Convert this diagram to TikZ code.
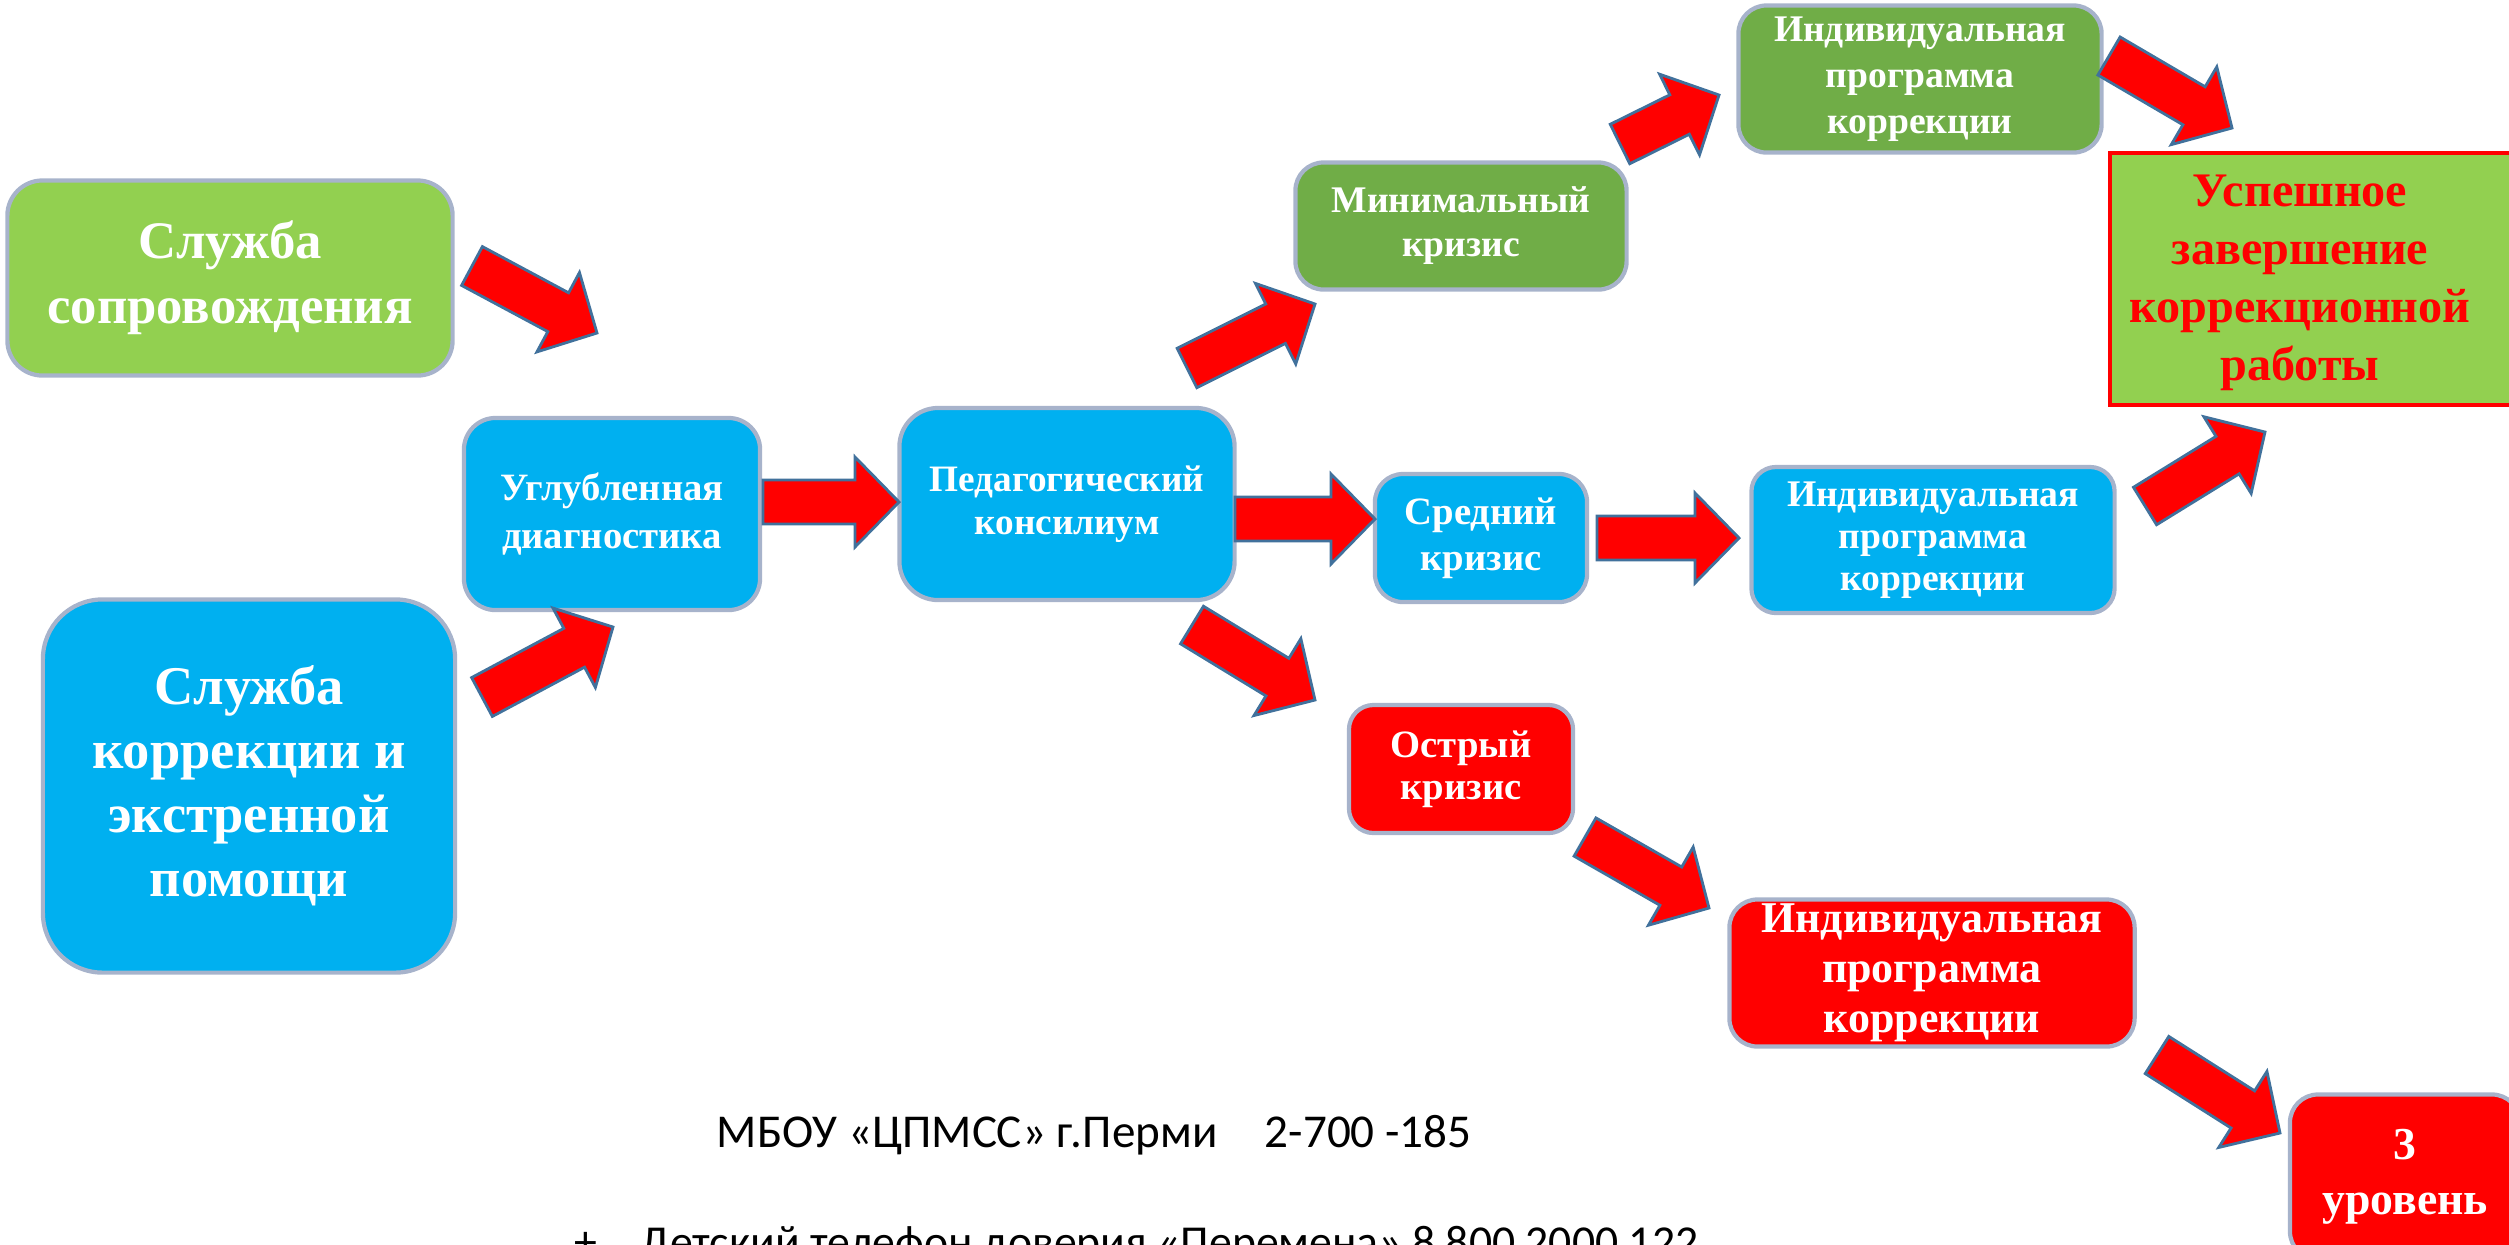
\documentclass[tikz,border=0pt]{standalone}
\usepackage{fontspec}
\setmainfont{Liberation Serif}
\newfontfamily\calibri{Carlito}
\usetikzlibrary{calc}

\definecolor{lgreen}{HTML}{92D050}
\definecolor{dgreen}{HTML}{70AD47}
\definecolor{lblue}{HTML}{00B0F0}
\definecolor{rimcol}{HTML}{A7B3CB}
\definecolor{arrowrim}{HTML}{41719C}

% block arrow from #1 to #2
\newcommand{\blockarrow}[2]{%
  \coordinate (hb) at ($(#2)!0.44cm!(#1)$);
  \draw[arrowshape] ($(#1)!0.22cm!90:(#2)$) -- ($(hb)!0.22cm!90:(#2)$) -- ($(hb)!0.45cm!90:(#2)$) -- (#2)
    -- ($(hb)!0.45cm!-90:(#2)$) -- ($(hb)!0.22cm!-90:(#2)$) -- ($(#1)!0.22cm!-90:(#2)$) -- cycle;}

\begin{document}
\begin{tikzpicture}[x=0.01cm, y=-0.01cm,
    box/.style={draw=rimcol, line width=1.2pt, text=white, align=center, inner sep=0pt, rounded corners=#1},
    box/.default=8pt,
    arrowshape/.style={fill=red, draw=arrowrim, line width=0.8pt, line join=miter}]

    \useasboundingbox (0,0) rectangle (2509,1244);
    \clip (0,0) rectangle (2509,1244);

    % left
    \node[box=10pt, fill=lgreen, minimum width=4.45cm, minimum height=1.95cm, font=\fontsize{15}{18.5}\selectfont\bfseries] (soprov) at (230,278) {Служба\\сопровождения};
    \node[box=17pt, fill=lblue, minimum width=4.12cm, minimum height=3.73cm, font=\fontsize{15.5}{18.2}\selectfont\bfseries] (korr) at (249,786) {Служба\\коррекции и\\экстренной\\помощи};
    \node[box=9pt, fill=lblue, minimum width=2.96cm, minimum height=1.92cm, font=\fontsize{11}{13.7}\selectfont\bfseries] (diag) at (612,514) {Углубленная\\диагностика};
    \node[box=11pt, fill=lblue, minimum width=3.35cm, minimum height=1.92cm, font=\fontsize{10.6}{12.3}\selectfont\bfseries] (konsil) at (1067,504) {Педагогический\\консилиум};

    % minimal
    \node[box, fill=dgreen, minimum width=3.31cm, minimum height=1.27cm, font=\fontsize{10.7}{12.5}\selectfont\bfseries] (minkr) at (1461,226) {Минимальный\\кризис};
    \node[box, fill=dgreen, minimum width=3.63cm, minimum height=1.47cm, font=\fontsize{10.7}{13}\selectfont\bfseries] (progmin) at (1920,79) {Индивидуальная\\программа\\коррекции};

    % middle
    \node[box, fill=lblue, minimum width=2.12cm, minimum height=1.28cm, font=\fontsize{11}{13}\selectfont\bfseries] (sredkr) at (1481,538) {Средний\\кризис};
    \node[box=7pt, fill=lblue, minimum width=3.63cm, minimum height=1.46cm, font=\fontsize{10.7}{12}\selectfont\bfseries] (progsred) at (1933,540) {Индивидуальная\\программа\\коррекции};

    % acute
    \node[box=7pt, fill=red, minimum width=2.24cm, minimum height=1.28cm, font=\fontsize{11}{12}\selectfont\bfseries] (ostrkr) at (1461,769) {Острый\\кризис};
    \node[box, fill=red, minimum width=4.05cm, minimum height=1.47cm, font=\fontsize{12.5}{14.2}\selectfont\bfseries] (progostr) at (1932,973) {Индивидуальная\\программа\\коррекции};
    \node[box, fill=red, minimum width=2.30cm, minimum height=1.65cm, font=\fontsize{13}{15.6}\selectfont\bfseries] (uroven) at (2405,1177) {3\\уровень};

    % result (box runs past the right edge)
    \draw[fill=lgreen, draw=red, line width=1pt] (2110,153) rectangle (2530,405);
    \node[text=red, align=center, inner sep=0pt, font=\fontsize{13.7}{16.5}\selectfont\bfseries] (uspeh) at (2300,283) {Успешное\\завершение\\коррекционной\\работы};

    % arrows
    \coordinate (from1) at (472,266);   \coordinate (to1) at (597,333);
    \coordinate (from2) at (482,697);   \coordinate (to2) at (613,627);
    \coordinate (from3) at (763,502);   \coordinate (to3) at (899,502);
    \coordinate (from4) at (1235,519);  \coordinate (to4) at (1375,519);
    \coordinate (from5) at (1187,368);  \coordinate (to5) at (1315,304);
    \coordinate (from6) at (1620,144);  \coordinate (to6) at (1719,95);
    \coordinate (from7) at (2109,56);   \coordinate (to7) at (2232,128);
    \coordinate (from8) at (1597,538);  \coordinate (to8) at (1739,538);
    \coordinate (from9) at (2145,506);  \coordinate (to9) at (2265,432);
    \coordinate (from10) at (1192,625); \coordinate (to10) at (1315,700);
    \coordinate (from11) at (1585,837); \coordinate (to11) at (1709,908);
    \coordinate (from12) at (2157,1055); \coordinate (to12) at (2280,1133);

    \blockarrow{from1}{to1}
    \blockarrow{from2}{to2}
    \blockarrow{from3}{to3}
    \blockarrow{from4}{to4}
    \blockarrow{from5}{to5}
    \blockarrow{from6}{to6}
    \blockarrow{from7}{to7}
    \blockarrow{from8}{to8}
    \blockarrow{from9}{to9}
    \blockarrow{from10}{to10}
    \blockarrow{from11}{to11}
    \blockarrow{from12}{to12}

    % contacts
    \node[anchor=base west, inner sep=0pt, font=\calibri\fontsize{13.4}{15}\selectfont] (mbou) at (716,1147) {МБОУ «ЦПМСС» г.Перми\hspace{1em}2-700 -185};
    \node[anchor=base west, inner sep=0pt, font=\calibri\fontsize{13}{15}\selectfont] (phone) at (574,1257) {+\hspace{0.95em}Детский телефон доверия «Перемена» 8 800 2000 122};

\end{tikzpicture}
\end{document}
